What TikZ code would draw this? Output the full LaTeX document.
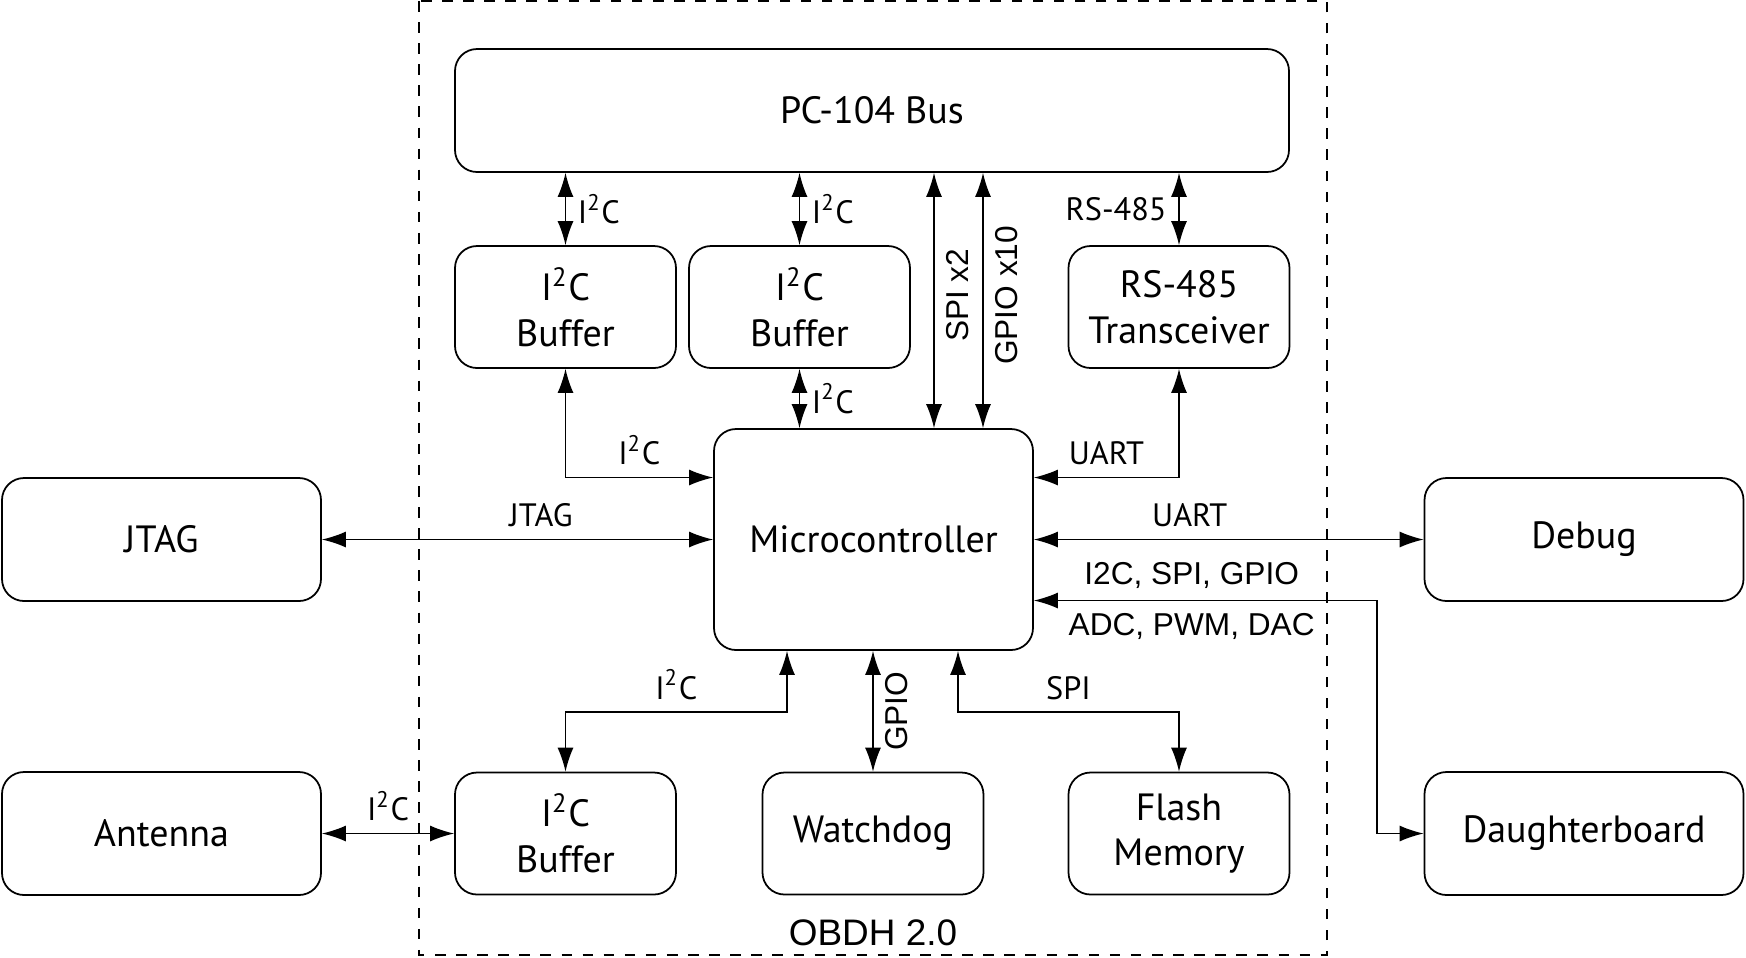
\documentclass[tikz,border=0pt]{standalone}
\usepackage{fontspec}
\setmainfont{PT Sans}
\newfontfamily\arialfont{Liberation Sans}
\usetikzlibrary{arrows.meta}

\begin{document}
\begin{tikzpicture}[
    block/.style={draw, rounded corners=0.22cm, align=center, line width=0.5pt, font=\fontsize{10.8}{13}\selectfont},
    wideblock/.style={block, minimum width=3.19cm, minimum height=1.23cm},
    smallblock/.style={block, minimum width=2.21cm, minimum height=1.22cm},
    link/.style={{Latex[length=2.4mm,width=1.6mm]}-{Latex[length=2.4mm,width=1.6mm]}, line width=0.4pt},
    tag/.style={font=\fontsize{9.2}{11}\selectfont},
    sig/.style={font=\arialfont\fontsize{9}{11}\selectfont},
    upsig/.style={sig, rotate=90, anchor=north}
]
            \useasboundingbox (0,0) rectangle (17.46,-9.57);
            % OBDH board outline
            \draw[dashed, line width=0.4pt] (4.19,-0.01) rectangle (13.27,-9.55);
            \node[sig, font=\arialfont\fontsize{10.5}{12}\selectfont] (obdh) at (8.73,-9.33) {OBDH 2.0};
            % Blocks
            \node[block, minimum width=8.34cm, minimum height=1.23cm] (bus) at (8.72,-1.105) {PC-104 Bus};
            \node[smallblock] (bufa) at (5.655,-3.07) {I\textsuperscript{2}C\\Buffer};
            \node[smallblock] (bufb) at (7.995,-3.07) {I\textsuperscript{2}C\\Buffer};
            \node[smallblock] (rs) at (11.79,-3.07) {RS-485\\Transceiver};
            \node[block, minimum width=3.19cm, minimum height=2.21cm] (mcu) at (8.735,-5.395) {Microcontroller};
            \node[wideblock] (jtag) at (1.615,-5.395) {JTAG};
            \node[wideblock] (debug) at (15.84,-5.395) {Debug};
            \node[wideblock] (antenna) at (1.615,-8.335) {Antenna};
            \node[smallblock] (bufc) at (5.655,-8.335) {I\textsuperscript{2}C\\Buffer};
            \node[smallblock] (wdog) at (8.73,-8.335) {Watchdog};
            \node[smallblock] (flash) at (11.79,-8.335) {Flash\\Memory};
            \node[wideblock] (dboard) at (15.84,-8.335) {Daughterboard};
            % Bus connections
            \draw[link] (bus.south -| bufa) -- node[tag, right] {I\textsuperscript{2}C} (bufa.north);
            \draw[link] (bus.south -| bufb) -- node[tag, right] {I\textsuperscript{2}C} (bufb.north);
            \draw[link] (bus.south -| rs) -- node[tag, left] {RS-485} (rs.north);
            \draw[link] ([xshift=0.605cm]mcu.north |- bus.south) -- node[upsig, pos=0.48] {SPI x2} ([xshift=0.605cm]mcu.north);
            \draw[link] ([xshift=1.095cm]mcu.north |- bus.south) -- node[upsig, pos=0.48] {GPIO x10} ([xshift=1.095cm]mcu.north);
            % Buffers and transceiver to microcontroller
            \draw[link] (bufb.south) -- node[tag, right] {I\textsuperscript{2}C} (bufb.south |- mcu.north);
            \draw[link] (bufa.south) |- node[tag, above, pos=0.75] {I\textsuperscript{2}C} ([yshift=0.62cm]mcu.west);
            \draw[link] (rs.south) |- node[tag, above, pos=0.75] {UART} ([yshift=0.62cm]mcu.east);
            % External connections
            \draw[link] (jtag.east) -- node[tag, above, pos=0.56] {JTAG} (mcu.west);
            \draw[link] (mcu.east) -- node[tag, above, pos=0.40] {UART} (debug.west);
            \draw[link] ([yshift=-0.61cm]mcu.east) -- ++(3.43,0) coordinate (bend)
                node[sig, above, pos=0.46] {I2C, SPI, GPIO}
                node[sig, below, pos=0.46] {ADC, PWM, DAC} |- (dboard.west);
            % Lower blocks
            \draw[link] ([xshift=-0.865cm]mcu.south) |- ++(0,-0.61) -| node[tag, above, pos=0.25] {I\textsuperscript{2}C} (bufc.north);
            \draw[link] (mcu.south -| wdog) -- node[upsig] {GPIO} (wdog.north);
            \draw[link] ([xshift=0.845cm]mcu.south) |- ++(0,-0.61) -| node[tag, above, pos=0.25] {SPI} (flash.north);
            \draw[link] (antenna.east) -- node[tag, above] {I\textsuperscript{2}C} (bufc.west);
\end{tikzpicture}
\end{document}
